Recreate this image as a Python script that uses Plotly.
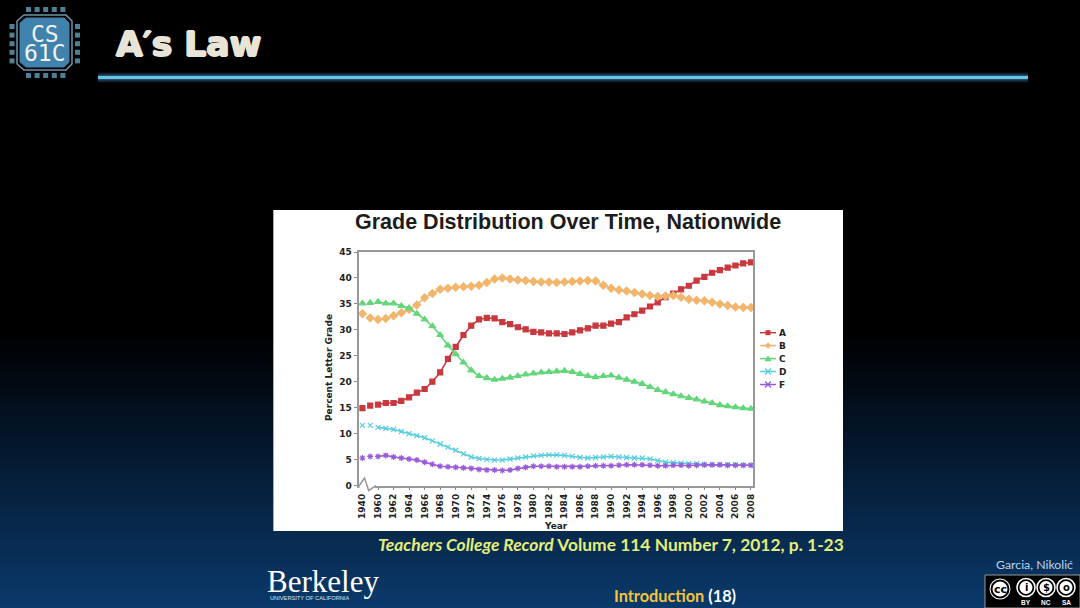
import plotly.graph_objects as go

years = ["1940", "1950"] + [str(y) for y in range(1960, 2009)]
tick_labels = ["1940"] + [str(y) for y in range(1960, 2009, 2)]

grade_a = [14.9, 15.4,
           15.6, 15.9, 15.9, 16.3, 17.0, 17.9, 18.6, 20.0, 21.8, 24.4,
           26.7, 29.0, 30.8, 32.0, 32.3, 32.2, 31.5, 31.1, 30.5, 30.1,
           29.6, 29.5, 29.3, 29.3, 29.2, 29.5, 29.9, 30.3, 30.8, 30.8,
           31.2, 31.5, 32.4, 33.0, 33.7, 34.5, 35.3, 36.3, 37.0, 37.8,
           38.5, 39.5, 40.2, 41.0, 41.5, 42.0, 42.4, 42.8, 43.0]
grade_b = [33.1, 32.3,
           32.0, 32.2, 32.7, 33.3, 33.9, 34.8, 36.2, 37.0, 37.8, 38.0,
           38.2, 38.3, 38.4, 38.6, 39.1, 39.8, 40.0, 39.8, 39.6, 39.5,
           39.3, 39.2, 39.2, 39.1, 39.2, 39.3, 39.4, 39.5, 39.4, 38.6,
           38.0, 37.7, 37.5, 37.2, 36.9, 36.6, 36.4, 36.5, 36.6, 36.3,
           35.9, 35.7, 35.6, 35.3, 35.0, 34.7, 34.4, 34.3, 34.3]
grade_c = [35.1, 35.2,
           35.4, 35.1, 35.1, 34.6, 34.2, 33.1, 32.0, 30.7, 29.0, 27.0,
           25.3, 23.7, 22.2, 21.1, 20.7, 20.4, 20.6, 20.8, 21.1, 21.4,
           21.6, 21.8, 21.9, 22.0, 22.1, 21.9, 21.5, 21.1, 20.9, 21.1,
           21.2, 20.8, 20.4, 20.0, 19.6, 19.0, 18.4, 18.0, 17.6, 17.2,
           16.9, 16.6, 16.2, 15.9, 15.5, 15.3, 15.1, 14.9, 14.8]
grade_d = [11.6, 11.6,
           11.2, 11.0, 10.8, 10.4, 10.0, 9.6, 9.2, 8.6, 8.0, 7.4,
           6.8, 6.1, 5.5, 5.2, 5.0, 4.9, 4.9, 5.1, 5.3, 5.5,
           5.7, 5.8, 5.9, 5.9, 5.8, 5.6, 5.4, 5.3, 5.4, 5.5,
           5.6, 5.5, 5.4, 5.3, 5.3, 5.1, 4.8, 4.5, 4.4, 4.3,
           4.2, 4.2, 4.0, 4.0, 4.0, 4.0, 4.0, 3.9, 3.9]
grade_f = [5.3, 5.6,
           5.6, 5.8, 5.5, 5.3, 5.1, 4.9, 4.5, 4.1, 3.7, 3.6,
           3.5, 3.4, 3.3, 3.1, 3.0, 3.0, 2.9, 3.0, 3.3, 3.5,
           3.7, 3.7, 3.7, 3.6, 3.6, 3.6, 3.6, 3.7, 3.8, 3.8,
           3.8, 3.9, 4.0, 4.0, 4.0, 3.9, 3.8, 3.8, 3.9, 3.9,
           3.8, 3.9, 4.0, 4.0, 4.0, 3.9, 3.9, 3.9, 3.9]
series = [("A", grade_a, "#c9383e", "square", 5),
          ("B", grade_b, "#f2b56b", "diamond", 6),
          ("C", grade_c, "#63d67a", "triangle-up", 6),
          ("D", grade_d, "#58cddd", "x-thin-open", 5),
          ("F", grade_f, "#9a5ad8", "asterisk-open", 5)]

W, H = 1080, 608
def px(x): return x / W
def py(y): return 1 - y / H

shapes, annotations = [], []
def rect(x0, y0, x1, y1, fill, line=None, lw=0, layer="below"):
    shapes.append(dict(type="rect", xref="paper", yref="paper", x0=px(x0), x1=px(x1),
                       y0=py(y1), y1=py(y0), fillcolor=fill, layer=layer,
                       line=dict(color=line or fill, width=lw)))
def path(points, color, lw, fill=None, layer="below", close=False):
    d = "M" + " L".join(f"{px(a):.5f},{py(b):.5f}" for a, b in points) + (" Z" if close else "")
    shapes.append(dict(type="path", xref="paper", yref="paper", path=d, layer=layer,
                       fillcolor=fill or "rgba(0,0,0,0)", line=dict(color=color, width=lw)))
def circle(cx, cy, r, fill, line, lw):
    shapes.append(dict(type="circle", xref="paper", yref="paper", x0=px(cx - r), x1=px(cx + r),
                       y0=py(cy + r), y1=py(cy - r), fillcolor=fill, layer="below",
                       line=dict(color=line, width=lw)))
def text(x, y, s, size, color, family="Liberation Sans", anchor="center", angle=0, height=None, shadow=None):
    font = dict(size=size, color=color, family=family)
    if shadow:
        font["shadow"] = shadow
    a = dict(xref="x2", yref="y2", x=x, y=y, text=s, showarrow=False, borderpad=0,
             xanchor=anchor, yanchor="middle", textangle=angle, font=font)
    if height:
        a["height"] = height
    annotations.append(a)

# page gradient
top, bottom = 330, 608
for y in range(top, bottom, 2):
    t = (y - top) / (bottom - top)
    rect(0, y, W, y + 3, f"rgb({int(11*t)},{int(58*t)},{int(108*t)})")

# heading rule with glow
for lw, col in [(10, "rgba(70,150,210,0.18)"), (6, "rgba(80,170,220,0.35)"), (3, "#66c4e4")]:
    shapes.append(dict(type="line", xref="paper", yref="paper", x0=px(98), x1=px(1028),
                       y0=py(77.5), y1=py(77.5), layer="below", line=dict(color=col, width=lw)))

# CS61C chip logo
for i in range(5):
    rect(26 + i * 8.6, 7, 31 + i * 8.6, 12, "#4f8098")
    rect(26 + i * 8.6, 73, 31 + i * 8.6, 78, "#4f8098")
    rect(9.5, 24 + i * 8.6, 14.5, 29 + i * 8.6, "#4f8098")
    rect(75, 24 + i * 8.6, 80, 29 + i * 8.6, "#4f8098")
octagon = [(24, 15), (66, 15), (72, 21), (72, 64), (66, 70), (24, 70), (17, 64), (17, 21)]
path(octagon, "#6d97ab", 1.5, fill="#000000", close=True)
inner = [(26, 18), (64, 18), (69, 23), (69, 62), (64, 67), (26, 67), (20, 62), (20, 23)]
path(inner, "#3f82ab", 1, fill="#3f82ab", close=True)
text(44.5, 33, "CS", 23, "#f2f2f2", "DejaVu Sans Mono", height=19)
text(44.5, 52, "61C", 23, "#f2f2f2", "DejaVu Sans Mono", height=19)

# heading
thick = "1px 0 0 #e8e4d8,-1px 0 0 #e8e4d8,0 1px 0 #e8e4d8,0 -1px 0 #e8e4d8"
text(115, 44, "<b>A′s Law</b>", 34.5, "#e8e4d8", "DejaVu Sans", anchor="left", shadow=thick)

# picture panel
rect(273, 210, 843, 531, "#ffffff")
shapes.append(dict(type="line", xref="paper", yref="paper", x0=px(273.5), x1=px(273.5),
                   y0=py(531), y1=py(210), layer="below", line=dict(color="#aaaaaa", width=1)))

# axis break: mask the baseline and draw the zig-zag
rect(359.5, 484, 375, 493, "#ffffff", layer="above")
path([(359, 486), (364.5, 478), (368.7, 490.5), (376, 485.7)], "#999999", 1.5, layer="above")

text(568, 222, "<b>Grade Distribution Over Time, Nationwide</b>", 21.5, "#1c1c1c")
text(329, 368, "<b>Percent Letter Grade</b>", 9, "#222222", "DejaVu Sans", angle=-90)
text(556, 526, "<b>Year</b>", 9, "#222222", "DejaVu Sans")

# series key, spaced as tightly as the source slide
key_y = [332.7, 345.6, 358.6, 371.5, 384.5]
for (name, vals, color, symbol, size), ky in zip(series, key_y):
    path([(760, ky), (776, ky)], color, 1.5)
    cx = 768
    if symbol == "square":
        rect(cx - 2.5, ky - 2.5, cx + 2.5, ky + 2.5, color)
    elif symbol == "diamond":
        path([(cx, ky - 3), (cx + 3, ky), (cx, ky + 3), (cx - 3, ky)], color, 0.5, fill=color, close=True)
    elif symbol == "triangle-up":
        path([(cx, ky - 3), (cx + 3, ky + 2.5), (cx - 3, ky + 2.5)], color, 0.5, fill=color, close=True)
    else:
        path([(cx - 3, ky - 3), (cx + 3, ky + 3)], color, 1.3)
        path([(cx - 3, ky + 3), (cx + 3, ky - 3)], color, 1.3)
    text(782, ky, f"<b>{name}</b>", 9, "#222222", "DejaVu Sans")

# captions
text(845, 544.5, "<b><i>Teachers College Record</i></b><b> Volume 114 Number 7, 2012, p. 1-23</b>",
     17.4, "#e4ee78", "Lato", anchor="right")
text(675, 595.5, "<b><span style='color:#f5c33c'>Introduction</span> (18)</b>", 16.3, "#ffffff", "Lato")
text(1034, 564, "Garcia, Nikolić", 12.3, "#b9d6ee", "Lato")

# Berkeley wordmark
text(323, 581, "Berkeley", 31, "#ffffff", "Liberation Serif")
text(309, 597.5, "UNIVERSITY OF CALIFORNIA", 5.7, "#dfe6ee", "Liberation Sans", height=7)

# licence badge
rect(985, 575, 1080, 608, "#000000", "#999999", 1)
circle(1000, 589, 11.5, "#ffffff", "#000000", 2)
circle(1000, 589, 8.5, "#ffffff", "#000000", 2)
text(1000, 589, "<b>cc</b>", 11, "#000000", "DejaVu Sans")
for cx, s in [(1026, "i"), (1046, "$"), (1066, "o")]:
    circle(cx, 587.5, 9, "#000000", "#ffffff", 1.5)
    circle(cx, 587.5, 6.5, "#ffffff", "#ffffff", 0)
    text(cx, 587.5, f"<b>{s}</b>", 10, "#000000", "DejaVu Sans")
for cx, s in [(1026, "BY"), (1046, "NC"), (1066, "SA")]:
    text(cx, 602.5, f"<b>{s}</b>", 6.5, "#ffffff", "Liberation Sans")

fig = go.Figure()
# the source draws no line across the 1940 -> 1950 -> 1960 jumps
x_plot = [years[0], None, years[1], None] + years[2:]
for name, vals, color, symbol, size in series:
    y_plot = [vals[0], None, vals[1], None] + vals[2:]
    fig.add_trace(go.Scatter(x=x_plot, y=y_plot, name=name, mode="lines+markers",
                             showlegend=False, connectgaps=False,
                             line=dict(color=color, width=1.6),
                             marker=dict(symbol=symbol, size=size, color=color,
                                         line=dict(color=color, width=1.2))))

fig.update_layout(
    width=W, height=H, autosize=False, showlegend=False,
    margin=dict(l=0, r=0, t=0, b=0, pad=0, autoexpand=False),
    paper_bgcolor="#000000", plot_bgcolor="rgba(0,0,0,0)",
    shapes=shapes, annotations=annotations,
    xaxis=dict(domain=[px(358.5), px(753)], type="category", range=[-0.51, 50.26],
               categoryorder="array", categoryarray=years,
               tickmode="array", tickvals=tick_labels, ticktext=tick_labels, tickangle=-90,
               ticks="outside", ticklen=3, tickcolor="#888888", showgrid=False, zeroline=False,
               showline=True, linecolor="#999999", linewidth=1.5, mirror=True,
               tickfont=dict(family="DejaVu Sans", size=9, color="#222222", weight="bold")),
    yaxis=dict(domain=[py(485.5), py(252)], range=[0, 45], tickmode="array",
               tickvals=list(range(0, 50, 5)), ticks="outside", ticklen=3, tickcolor="#888888",
               showgrid=False, zeroline=False, showline=True, linecolor="#999999", linewidth=2,
               mirror=True,
               tickfont=dict(family="DejaVu Sans", size=9, color="#222222", weight="bold")),
    xaxis2=dict(domain=[0, 1], range=[0, W], visible=False, anchor="y2", fixedrange=True),
    yaxis2=dict(domain=[0, 1], range=[H, 0], visible=False, anchor="x2", fixedrange=True),
)

fig.write_html("out.html", config={"displayModeBar": False},
               post_script="document.body.style.margin='0';document.body.style.background='#000';document.body.style.overflow='hidden';")
